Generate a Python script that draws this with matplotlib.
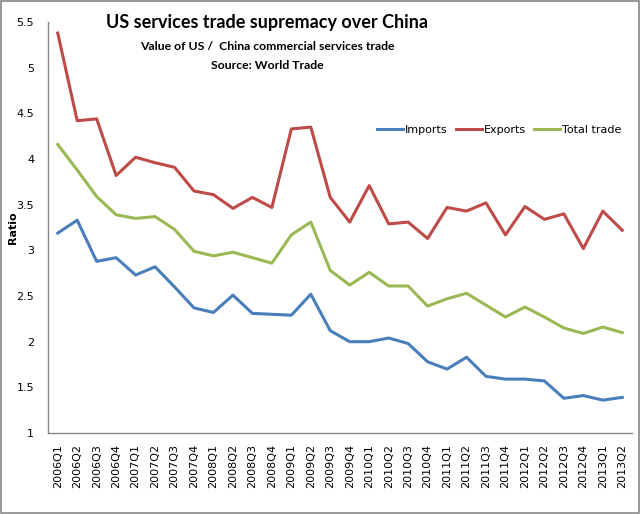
import matplotlib.pyplot as plt
from matplotlib.patches import Rectangle

# quarters 2006Q1 .. 2013Q2
quarters = [f"{y}Q{q}" for y in range(2006, 2014) for q in range(1, 5)][:30]

imports = [3.19, 3.33, 2.88, 2.92, 2.73, 2.82, 2.60, 2.37, 2.32, 2.51,
           2.31, 2.30, 2.29, 2.52, 2.12, 2.00, 2.00, 2.04, 1.98, 1.78,
           1.70, 1.83, 1.62, 1.59, 1.59, 1.57, 1.38, 1.41, 1.36, 1.39]
exports = [5.38, 4.42, 4.44, 3.82, 4.02, 3.96, 3.91, 3.65, 3.61, 3.46,
           3.58, 3.47, 4.33, 4.35, 3.58, 3.31, 3.71, 3.29, 3.31, 3.13,
           3.47, 3.43, 3.52, 3.17, 3.48, 3.34, 3.40, 3.02, 3.43, 3.22]
total = [4.16, 3.88, 3.59, 3.39, 3.35, 3.37, 3.23, 2.99, 2.94, 2.98,
         2.92, 2.86, 3.17, 3.31, 2.78, 2.62, 2.76, 2.61, 2.61, 2.39,
         2.47, 2.53, 2.40, 2.27, 2.38, 2.27, 2.15, 2.09, 2.16, 2.10]

yticks = [1, 1.5, 2, 2.5, 3, 3.5, 4, 4.5, 5, 5.5]
ytick_labels = ["1", "1.5", "2", "2.5", "3", "3.5", "4", "4.5", "5", "5.5"]

fig = plt.figure(figsize=(6.4, 5.14), dpi=100)
ax = fig.add_axes([0.075, 0.1576, 0.9125, 0.7994])

x = list(range(len(quarters)))
ax.plot(x, imports, color="#4A7EBB", lw=2.2, label="Imports", solid_joinstyle="round")
ax.plot(x, exports, color="#BE4B48", lw=2.2, label="Exports", solid_joinstyle="round")
ax.plot(x, total, color="#98B954", lw=2.2, label="Total trade", solid_joinstyle="round")

ax.set_xlim(-0.5, len(quarters) - 0.5)
ax.set_ylim(1, 5.5)
ax.set_yticks(yticks)
ax.set_yticklabels(ytick_labels, fontsize=8)
ax.set_xticks(x)
ax.set_xticklabels(quarters, rotation=90, fontsize=8)
ax.tick_params(length=0, pad=8)
ax.tick_params(axis="y", pad=10)

for s in ["top", "right"]:
    ax.spines[s].set_visible(False)
for s in ["left", "bottom"]:
    ax.spines[s].set_color("#868686")
    ax.spines[s].set_linewidth(1)

ax.set_ylabel("Ratio", fontsize=8, fontweight="bold")
ax.yaxis.set_label_coords(-0.052, 0.5)

ax.legend(loc="center left", bbox_to_anchor=(0.563, 0.737), ncol=3, frameon=False,
          fontsize=8, handlelength=2.4, columnspacing=0.7, handletextpad=0.15,
          borderaxespad=0, borderpad=0)

fig.text(0.417, 0.957, "US services trade supremacy over China", ha="center", va="center",
         fontsize=13, fontweight="bold", family="Lato")
fig.text(0.417, 0.910, "Value of US /  China commercial services trade", ha="center",
         va="center", fontsize=8.8, fontweight="bold", family="Lato")
fig.text(0.417, 0.873, "Source: World Trade", ha="center", va="center",
         fontsize=8.8, fontweight="bold", family="Lato")

fig.patches.append(Rectangle((0.002, 0.002), 0.996, 0.996, transform=fig.transFigure,
                             fill=False, edgecolor="#868686", lw=1.2))

fig.savefig("out.png", dpi=100)
